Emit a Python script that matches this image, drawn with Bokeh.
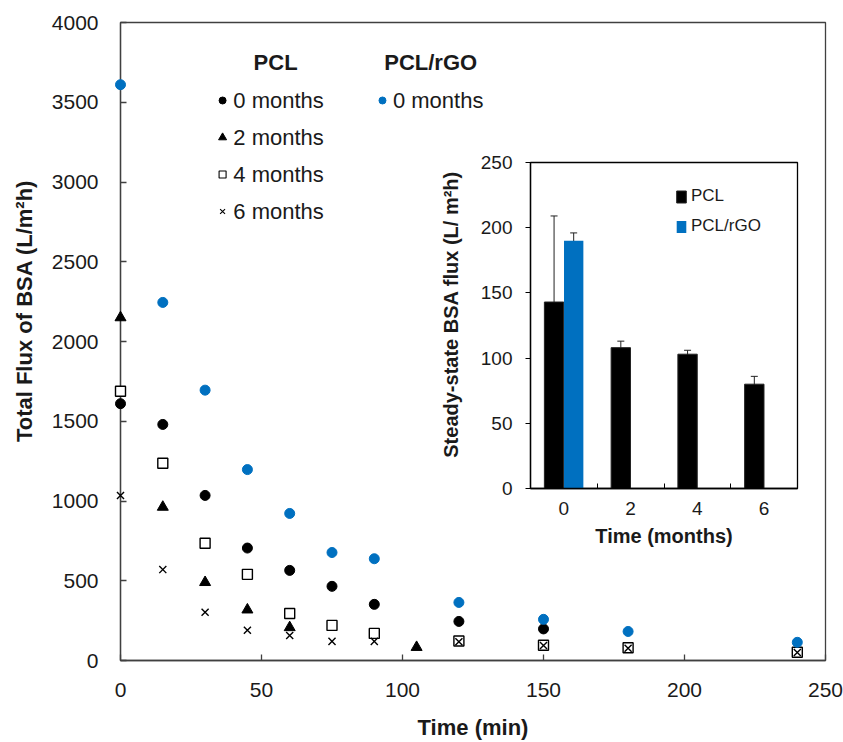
import numpy as np
from bokeh.plotting import figure
from bokeh.models import (ColumnDataSource, Range1d, FixedTicker, Whisker,
                          TeeHead, Legend, LegendItem)
from bokeh.core.properties import value
from bokeh.embed import file_html
from bokeh.resources import INLINE

FONT = "Liberation Sans"
BLUE = "#0070C0"
TXT = "#1a1a1a"
AX = "#404040"
NB = "\u00a0"

# ---------------- main chart data (time in min, flux in L/m2h) ----------------
t_pcl0 = [0, 15, 30, 45, 60, 75, 90, 120, 150]
f_pcl0 = [1610, 1480, 1035, 705, 565, 465, 352, 245, 198]

t_pcl2 = [0, 15, 30, 45, 60, 105]
f_pcl2 = [2150, 962, 490, 318, 207, 83]

t_pcl4 = [0, 15, 30, 45, 60, 75, 90, 120, 150, 180, 240]
f_pcl4 = [1688, 1237, 735, 540, 295, 220, 170, 122, 96, 80, 52]

t_pcl6 = [0, 15, 30, 45, 60, 75, 90, 120, 150, 180, 240]
f_pcl6 = [1035, 570, 302, 190, 157, 120, 120, 118, 94, 77, 50]

t_rgo0 = [0, 15, 30, 45, 60, 75, 90, 120, 150, 180, 240]
f_rgo0 = [3610, 2245, 1695, 1197, 922, 677, 638, 364, 258, 182, 114]

x_ticks = [0, 50, 100, 150, 200, 250]
y_ticks = [0, 500, 1000, 1500, 2000, 2500, 3000, 3500, 4000]

# ---------------- inset data (steady-state flux) ----------------
months = ["0", "2", "4", "6"]
pcl_ss = [143, 108, 103, 80]
pcl_err = [66, 5, 3, 6]
rgo_months = ["0"]
rgo_ss = [190]
rgo_err = [6]
inset_y_ticks = [0, 50, 100, 150, 200, 250]

# ======================= main figure =======================
p = figure(width=843, height=742, x_range=Range1d(0, 250), y_range=Range1d(0, 4000),
           output_backend="svg", toolbar_location=None,
           min_border_left=120, min_border_right=18, min_border_top=22, min_border_bottom=82)
p.grid.visible = False
p.outline_line_color = AX
p.outline_line_width = 1.3
p.background_fill_color = "white"

for ax in (p.xaxis[0], p.yaxis[0]):
    ax.axis_line_color = AX
    ax.axis_line_width = 1.3
    ax.major_tick_line_color = AX
    ax.major_tick_line_width = 1.3
    ax.major_tick_in = 6
    ax.major_tick_out = 0
    ax.minor_tick_line_color = None
    ax.major_label_text_font = FONT
    ax.major_label_text_font_size = "21px"
    ax.major_label_text_color = TXT
    ax.axis_label_text_font = FONT
    ax.axis_label_text_font_size = "22px"
    ax.axis_label_text_font_style = "bold"
    ax.axis_label_text_color = TXT

p.xaxis.ticker = FixedTicker(ticks=x_ticks)
p.yaxis.ticker = FixedTicker(ticks=y_ticks)
p.xaxis.major_label_standoff = 22
p.yaxis.major_label_standoff = 22
p.xaxis.axis_label = "Time (min)"
p.xaxis.axis_label_standoff = 15
# leading no-break spaces shift the (centred) title up, as in the original
p.yaxis.axis_label = NB * 10 + "Total Flux of BSA (L/m²h)"
p.yaxis.axis_label_standoff = 12

p.scatter(t_pcl0, f_pcl0, marker="circle", size=10, color="black", level="overlay")
p.scatter(t_pcl2, f_pcl2, marker="triangle", size=11, color="black", level="overlay")
p.scatter(t_pcl4, f_pcl4, marker="square", size=10, fill_color="white",
          line_color="black", line_width=1.4, level="overlay")
p.scatter(t_pcl6, f_pcl6, marker="x", size=10, line_color="black", line_width=1.4,
          level="overlay")
p.scatter(t_rgo0, f_rgo0, marker="circle", size=10, color=BLUE, level="overlay")

# ---- manual legend (layout positions in data space) ----
leg_heads = ColumnDataSource(dict(x=[55.0, 110.0], y=[3752, 3752], t=["PCL", "PCL/rGO"]))
p.text("x", "y", text="t", source=leg_heads, text_font=value(FONT), text_font_size="22px",
       text_font_style="bold", text_align="center", text_baseline="middle", text_color=TXT)
leg_labels = ["0 months", "2 months", "4 months", "6 months"]
leg_rows_y = [3511, 3279, 3047, 2815]
leg_txt = ColumnDataSource(dict(x=[40.0] * 4 + [96.6], y=leg_rows_y + [3511],
                                t=leg_labels + ["0 months"]))
p.text("x", "y", text="t", source=leg_txt, text_font=value(FONT), text_font_size="22px",
       text_align="left", text_baseline="middle", text_color=TXT)
mx = 36.2
p.scatter([mx], [leg_rows_y[0]], marker="circle", size=7, color="black")
p.scatter([mx], [leg_rows_y[1]], marker="triangle", size=8, color="black")
p.scatter([mx], [leg_rows_y[2]], marker="square", size=7, fill_color="white",
          line_color="black", line_width=1.1)
p.scatter([mx], [leg_rows_y[3]], marker="x", size=7, line_color="black", line_width=1.1)
p.scatter([92.9], [leg_rows_y[0]], marker="circle", size=7, color=BLUE)

# ======================= inset figure =======================
inset = figure(width=375, height=412, x_range=Range1d(-0.5, 3.5), y_range=Range1d(0, 250),
               output_backend="svg", toolbar_location=None,
               min_border_left=100, min_border_right=8, min_border_top=14, min_border_bottom=72,
               border_fill_color=None)
inset.styles = {"position": "absolute", "left": "430px", "top": "148px"}
inset.grid.visible = False
inset.outline_line_color = "black"
inset.outline_line_width = 1.3

idx = np.arange(len(months))
off = 0.147
bw = 0.29
src_pcl = ColumnDataSource(dict(x=idx - off, top=pcl_ss,
                                upper=np.array(pcl_ss) + np.array(pcl_err),
                                lower=np.array(pcl_ss) - np.array(pcl_err)))
ridx = np.array([months.index(m) for m in rgo_months])
src_rgo = ColumnDataSource(dict(x=ridx + off, top=rgo_ss,
                                upper=np.array(rgo_ss) + np.array(rgo_err),
                                lower=np.array(rgo_ss) - np.array(rgo_err)))
r_pcl = inset.vbar(x="x", top="top", width=bw, source=src_pcl, fill_color="black",
                   line_color="#222222", line_width=1)
r_rgo = inset.vbar(x="x", top="top", width=bw, source=src_rgo, fill_color=BLUE,
                   line_color=None)
for s in (src_pcl, src_rgo):
    inset.add_layout(Whisker(source=s, base="x", upper="upper", lower="lower",
                             line_color="#222222", line_width=1,
                             upper_head=TeeHead(size=7, line_color="#222222", line_width=1),
                             lower_head=TeeHead(size=7, line_color="#222222", line_width=1)))

xa = inset.xaxis[0]
xa.ticker = FixedTicker(ticks=list(idx), minor_ticks=[0.5, 1.5, 2.5])
xa.major_label_overrides = {int(i): m for i, m in zip(idx, months)}
xa.major_tick_in = 0
xa.major_tick_out = 0
xa.minor_tick_in = 5
xa.minor_tick_out = 0
xa.minor_tick_line_color = "black"
xa.major_label_standoff = 13
xa.axis_label = "Time (months)"
xa.axis_label_standoff = 7

ya = inset.yaxis[0]
ya.ticker = FixedTicker(ticks=inset_y_ticks)
ya.major_tick_in = 0
ya.major_tick_out = 5
ya.minor_tick_line_color = None
ya.major_label_standoff = 13
ya.axis_label = NB * 4 + "Steady-state BSA flux (L/ m²h)"
ya.axis_label_standoff = 16

for ax in (xa, ya):
    ax.axis_line_color = "black"
    ax.axis_line_width = 1.3
    ax.major_tick_line_color = "black"
    ax.major_label_text_font = FONT
    ax.major_label_text_font_size = "19px"
    ax.major_label_text_color = TXT
    ax.axis_label_text_font = FONT
    ax.axis_label_text_font_size = "20px"
    ax.axis_label_text_font_style = "bold"
    ax.axis_label_text_color = TXT

leg = Legend(items=[LegendItem(label="PCL", renderers=[r_pcl]),
                    LegendItem(label="PCL/rGO", renderers=[r_rgo])],
             location=(145, 252), padding=0, margin=0, spacing=10,
             glyph_width=12, glyph_height=15, label_height=15, label_standoff=4,
             label_text_font=FONT, label_text_font_size="17px", label_text_color=TXT,
             border_line_color=None, background_fill_alpha=0)
inset.add_layout(leg)

html = file_html([p, inset], INLINE, title="BSA flux")
html = html.replace("<head>", "<head><style>html,body{margin:0;overflow:hidden;}</style>", 1)
open("out.html", "w").write(html)
